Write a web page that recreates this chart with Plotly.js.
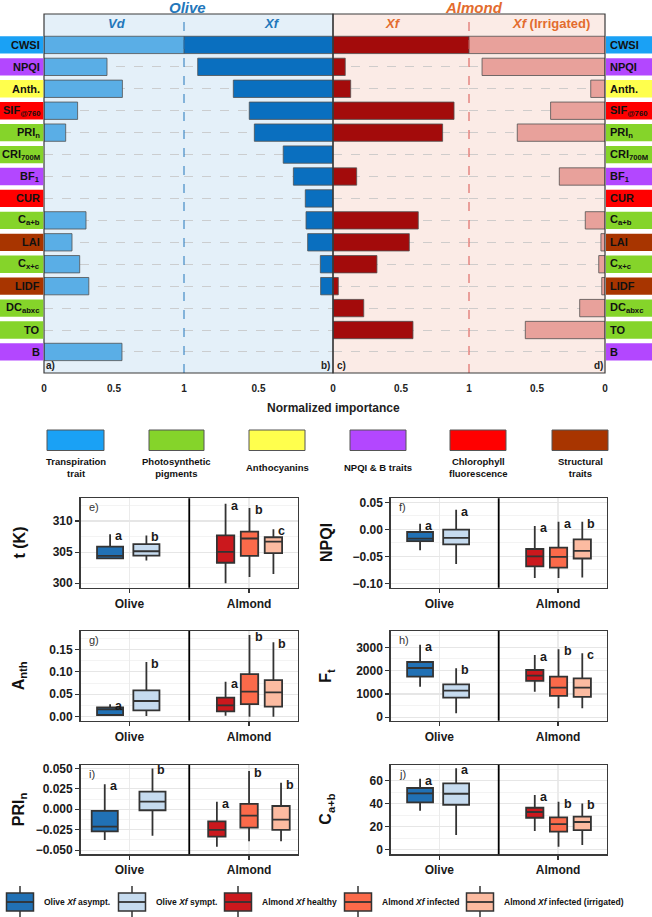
<!DOCTYPE html>
<html><head><meta charset="utf-8">
<script src="https://cdn.plot.ly/plotly-3.0.1.min.js"></script>
<style>html,body{margin:0;padding:0;background:#fff}</style>
</head><body><div id="chart" style="width:652px;height:917px"></div>
<script>
// ================= DATA =================
// Top panels: normalized importance of each trait
const traits = ['CWSI','NPQI','Anth','SIF','PRIn','CRI','BF1','CUR','Cab','LAI','Cxc','LIDF','DC','TO','B'];
const traitLabels = ['CWSI','NPQI','Anth.','SIF<sub>@760</sub>','PRI<sub>n</sub>','CRI<sub>700M</sub>','BF<sub>1</sub>','CUR','C<sub>a+b</sub>','LAI','C<sub>x+c</sub>','LIDF','DC<sub>abxc</sub>','TO','B'];
const traitGroup = [0,3,2,4,1,1,3,4,1,5,1,5,1,1,3];
const groupLabels = ['Transpiration<br>trait','Photosynthetic<br>pigments','Anthocyanins','NPQI & B traits','Chlorophyll<br>fluorescence','Structural<br>traits'];
const oliveVd     = [1.00,0.45,0.56,0.24,0.155,0,0,0,0.30,0.20,0.255,0.32,0,0,0.557];
const oliveXf     = [1.00,0.908,0.669,0.562,0.528,0.334,0.266,0.186,0.181,0.17,0.085,0.083,0,0,0];
const almondXf    = [1.00,0.09,0.13,0.89,0.806,0,0.174,0,0.627,0.561,0.323,0.039,0.226,0.588,0];
const almondXfIrr = [1.00,0.904,0.105,0.40,0.645,0,0.336,0,0.145,0.03,0.046,0.024,0.186,0.586,0];
const impTickVals = [0, 0.5, 1];
const impTickText = ['0', '0.5', '1'];

// Box plots
const crops = ['Olive','Almond'];
const boxGroupLabels = ['Olive <i>Xf</i> asympt.','Olive <i>Xf</i> sympt.','Almond <i>Xf</i> healthy','Almond <i>Xf</i> infected','Almond <i>Xf</i> infected (irrigated)'];
const tK = {lower:[304.0,303.65,300.0,301.0,301.5], q1:[304.0,304.45,303.3,304.4,304.85], median:[304.4,305.15,305.05,307.2,306.7], q3:[305.9,306.3,307.7,308.3,307.4], upper:[307.9,307.7,312.8,312.1,308.7], letters:['a','b','a','b','c']};
const npqi = {lower:[-0.039,-0.064,-0.09,-0.09,-0.089], q1:[-0.022,-0.028,-0.0686,-0.071,-0.054], median:[-0.0174,-0.016,-0.05,-0.051,-0.040], q3:[-0.005,-0.0007,-0.0365,-0.034,-0.0185], upper:[0.0104,0.036,0.006,0.014,0.014], letters:['a','a','a','a','b']};
const anth = {lower:[0.002,0.0015,0.002,0.0,0.0], q1:[0.0038,0.0142,0.012,0.028,0.0223], median:[0.0165,0.035,0.0254,0.0557,0.0543], q3:[0.021,0.0588,0.0423,0.095,0.0817], upper:[0.028,0.122,0.078,0.182,0.166], letters:['a','b','a','b','b']};
const ft = {lower:[1311,171,1100,386,386], q1:[1740,843,1557,914,871], median:[2113,1143,1786,1270,1270], q3:[2370,1414,2027,1740,1671], upper:[3111,2100,2670,2914,2743], letters:['a','b','a','b','c']};
const prin = {lower:[-0.0376,-0.0323,-0.0458,-0.0392,-0.0392], q1:[-0.027,-0.0012,-0.0335,-0.0225,-0.0253], median:[-0.0213,0.0093,-0.0253,-0.0078,-0.0127], q3:[-0.002,0.0216,-0.0147,0.0065,0.004], upper:[0.0306,0.050,0.0093,0.0469,0.0326], letters:['a','b','a','b','b']};
const cab = {lower:[33.9,12.8,16.3,2.6,4.1], q1:[41.2,39.1,27.8,15.7,17.1], median:[49.0,48.7,32.8,22.3,24.1], q3:[53.7,57.7,36.5,28.2,28.7], upper:[61.7,70.8,47.6,41.7,40.3], letters:['a','a','a','b','b']};

// ================= STYLE / LAYOUT =================
const W = 652, H = 917;
const px = x => x / W;
const py = y => 1 - y / H;
const FONT = 'Liberation Sans, Arial, sans-serif';
const groupColors = ['#1AA1F5','#85D42A','#FFFF4D','#B347FF','#FF0000','#A83500'];
const boxColors = ['#2171B5','#C6DBEF','#CB181D','#FB6A4A','#FCBBA1'];
const oliveCol = '#2277BB', almondCol = '#E36C2E';

const traces = [];
const shapes = [];
const annotations = [];
const layout = {
  width: W, height: H, margin: {l:0, r:0, t:0, b:0},
  paper_bgcolor: '#fff', plot_bgcolor: 'rgba(0,0,0,0)',
  font: {family: FONT, color: '#222'},
  showlegend: false, hovermode: false,
  shapes, annotations
};

// ---- top bar panels ----
const barPanels = [
  {vals: oliveVd, color:'#5AAEE6', x0:44, x1:184, rev:false, ticks:[0,1,2]},
  {vals: oliveXf, color:'#0A6FBF', x0:184, x1:333, rev:true, ticks:[1,0]},
  {vals: almondXf, color:'#A30B0B', x0:333, x1:469, rev:false, ticks:[1,2]},
  {vals: almondXfIrr, color:'#E8A19B', x0:469, x1:605, rev:true, ticks:[1,0]},
];
const TOP_Y0 = 14, TOP_Y1 = 373;
barPanels.forEach((p, k) => {
  const ax = k === 0 ? 'x' : 'x' + (k + 1);
  const axName = k === 0 ? 'xaxis' : 'xaxis' + (k + 1);
  traces.push({
    type:'bar', orientation:'h', xaxis: ax, yaxis:'y',
    y: traits, x: p.vals.map(v => v === 0 ? null : v),
    width: 0.79, marker:{color:p.color, line:{color:'#505050', width:0.8}},
    hoverinfo:'skip'
  });
  layout[axName] = {
    domain:[px(p.x0), px(p.x1)], range: p.rev ? [1,0] : [0,1], anchor:'y',
    showgrid:false, zeroline:false, showline:false,
    tickmode:'array', tickvals: p.ticks.map(i => impTickVals[i]), ticktext: p.ticks.map(i => impTickText[i]),
    ticks:'outside', ticklen:6, tickcolor:'rgba(0,0,0,0)',
    tickfont:{size:10, color:'#222', weight:'bold'}, fixedrange:true
  };
});
layout.yaxis = {
  domain:[py(TOP_Y1), py(TOP_Y0)], type:'category', categoryarray: traits,
  range:[14.96, -1.41], anchor:'x', showticklabels:false, ticks:'',
  showgrid:true, griddash:'dash', gridcolor:'#C4C4C4', gridwidth:0.8, zeroline:false, fixedrange:true
};
// panel backgrounds
shapes.push({type:'rect', xref:'paper', yref:'paper', x0:px(44), x1:px(333), y0:py(TOP_Y1), y1:py(TOP_Y0), fillcolor:'#E4F0F9', line:{width:0}, layer:'below'});
shapes.push({type:'rect', xref:'paper', yref:'paper', x0:px(333), x1:px(605), y0:py(TOP_Y1), y1:py(TOP_Y0), fillcolor:'#FBEBE6', line:{width:0}, layer:'below'});
// dashed dividers
shapes.push({type:'line', xref:'paper', yref:'paper', x0:px(184), x1:px(184), y0:py(TOP_Y1), y1:py(TOP_Y0), line:{color:oliveCol, width:1, dash:'dash'}});
shapes.push({type:'line', xref:'paper', yref:'paper', x0:px(469), x1:px(469), y0:py(TOP_Y1), y1:py(TOP_Y0), line:{color:'#D9534F', width:1, dash:'dash'}});
// borders
shapes.push({type:'rect', xref:'paper', yref:'paper', x0:px(44), x1:px(333), y0:py(TOP_Y1), y1:py(TOP_Y0), line:{color:'#3a3a3a', width:1.2}});
shapes.push({type:'rect', xref:'paper', yref:'paper', x0:px(333), x1:px(605), y0:py(TOP_Y1), y1:py(TOP_Y0), line:{color:'#3a3a3a', width:1.2}});
// trait label boxes
traits.forEach((t, i) => {
  const col = groupColors[traitGroup[i]];
  shapes.push({type:'rect', xref:'paper', yref:'y', x0:0, x1:px(43.3), y0:i-0.395, y1:i+0.395, fillcolor:col, line:{width:0}});
  shapes.push({type:'rect', xref:'paper', yref:'y', x0:px(606), x1:1, y0:i-0.395, y1:i+0.395, fillcolor:col, line:{width:0}});
  annotations.push({xref:'paper', yref:'y', x:px(42), y:t, xanchor:'right', yanchor:'middle', showarrow:false,
    text:'<b>'+traitLabels[i]+'</b>', font:{size:11, color:'#111'}});
  annotations.push({xref:'paper', yref:'y', x:px(607.5), y:t, xanchor:'left', yanchor:'middle', showarrow:false,
    text:'<b>'+traitLabels[i]+'</b>', font:{size:11, color:'#111'}});
});
// headers
const hdr = (x, y, text, color, size) => annotations.push({xref:'paper', yref:'paper', x:px(x), y:py(y), xanchor:'center', yanchor:'middle', showarrow:false, text, font:{size, color}});
hdr(187, 7, '<b><i>Olive</i></b>', oliveCol, 15);
hdr(474, 7, '<b><i>Almond</i></b>', almondCol, 15);
hdr(116.7, 24, '<b><i>Vd</i></b>', oliveCol, 13);
hdr(271.7, 24, '<b><i>Xf</i></b>', oliveCol, 13);
hdr(392.7, 24, '<b><i>Xf</i></b>', almondCol, 13);
hdr(550.7, 24, '<b><i>Xf</i> (Irrigated)</b>', almondCol, 13);
// panel letters
[['a)',50],['b)',325],['c)',341],['d)',598]].forEach(([t,x]) => hdr(x, 366, '<b>'+t+'</b>', '#222', 10));
hdr(333, 408, '<b>Normalized importance</b>', '#222', 12);

// category legend
const catX = [[47,104],[149,204],[249,305],[350,406],[450,506],[552,608]];
groupLabels.forEach((g, i) => {
  shapes.push({type:'rect', xref:'paper', yref:'paper', x0:px(catX[i][0]), x1:px(catX[i][1]), y0:py(450.5), y1:py(430), fillcolor:groupColors[i], line:{color:'#555', width:1}});
  annotations.push({xref:'paper', yref:'paper', x:px((catX[i][0]+catX[i][1])/2), y:py(467.5), xanchor:'center', yanchor:'middle', showarrow:false,
    text:'<b>'+g+'</b>', font:{size:9.5, color:'#111'}});
});

// ---- box panels ----
const POS_A = [0.136, 0.303, 0.667, 0.777, 0.887];
const POS_I = [0.1115, 0.331, 0.627, 0.775, 0.922];
const WID = [0.12, 0.12, 0.08, 0.08, 0.08];
const boxPanels = [
  {d:tK,   title:'t (K)', tag:'e)', x0:80.5, x1:298,  y0:498.3, y1:587.7, range:[299.29,313.66], dtick:5, minor:2.5, fmt:'d', pos:POS_A, tx:18.5},
  {d:npqi, title:'NPQI', tag:'f)', x0:390.7, x1:606.7, y0:498.3, y1:587.7, range:[-0.1081,0.0574], dtick:0.05, minor:0.025, fmt:'.2f', pos:POS_A, tx:326},
  {d:anth, title:'A<sub>nth</sub>', tag:'g)', x0:80.5, x1:298, y0:631, y1:720.7, range:[-0.0089,0.1909], dtick:0.05, minor:0.025, fmt:'.2f', pos:POS_A, tx:19.5},
  {d:ft,   title:'F<sub>t</sub>', tag:'h)', x0:390.7, x1:606.7, y0:631, y1:720.7, range:[-146,3699], dtick:1000, minor:500, fmt:'d', pos:POS_A, tx:327},
  {d:prin, title:'PRI<sub>n</sub>', tag:'i)', x0:80.5, x1:298, y0:765, y1:854.3, range:[-0.0551,0.0542], dtick:0.025, minor:0.0125, fmt:'.3f', pos:POS_I, tx:19.5},
  {d:cab,  title:'C<sub>a+b</sub>', tag:'j)', x0:390.7, x1:606.7, y0:765, y1:854.3, range:[-4,73.7], dtick:20, minor:10, fmt:'d', pos:POS_A, tx:327},
];
boxPanels.forEach((p, k) => {
  const xi = k + 5, yi = k + 2;
  const xa = 'x' + xi, ya = 'y' + yi;
  layout['xaxis' + xi] = {
    domain:[px(p.x0), px(p.x1)], range:[0,1], anchor: ya,
    tickmode:'array', tickvals:[0.225, 0.775], ticktext: crops,
    ticks:'outside', ticklen:4, tickcolor:'#333', tickwidth:1.2,
    tickfont:{size:12, color:'#1a1a1a', weight:'bold'},
    showgrid:true, gridcolor:'#EBEBEB', gridwidth:1.2, zeroline:false,
    showline:true, mirror:true, linecolor:'#3a3a3a', linewidth:1.4, fixedrange:true
  };
  layout['yaxis' + yi] = {
    domain:[py(p.y1), py(p.y0)], range:p.range, anchor: xa,
    tickmode:'linear', tick0:0, dtick:p.dtick, tickformat:p.fmt,
    ticks:'outside', ticklen:4, tickcolor:'#333', tickwidth:1.2,
    tickfont:{size:12, color:'#1a1a1a', weight:'bold'},
    showgrid:true, gridcolor:'#E6E6E6', gridwidth:1.2, zeroline:false,
    minor:{tick0:0, dtick:p.minor, showgrid:true, gridcolor:'#F3F3F3', gridwidth:1, ticks:''},
    showline:true, mirror:true, linecolor:'#3a3a3a', linewidth:1.4, fixedrange:true
  };
  for (let g = 0; g < 5; g++) {
    traces.push({
      type:'box', xaxis:xa, yaxis:ya, x:[p.pos[g]],
      q1:[p.d.q1[g]], median:[p.d.median[g]], q3:[p.d.q3[g]],
      lowerfence:[p.d.lower[g]], upperfence:[p.d.upper[g]],
      width: WID[g], whiskerwidth:0, boxpoints:false,
      fillcolor: boxColors[g], line:{color:'#333', width:1.8},
      hoverinfo:'skip', showlegend:false
    });
    annotations.push({xref:xa, yref:ya, x:p.pos[g], y:p.d.upper[g], xanchor:'left', yanchor:'middle', xshift:3, yshift:-2,
      showarrow:false, text:'<b>'+p.d.letters[g]+'</b>', font:{size:12.5, color:'#1a1a1a'}});
  }
  // facet divider
  shapes.push({type:'line', xref:xa, yref: ya + ' domain', x0:0.5, x1:0.5, y0:0, y1:1, line:{color:'#000', width:1.8}});
  // panel tag
  annotations.push({xref:'paper', yref:'paper', x:px(p.x0 + 6), y:py(p.y0 + 9), xanchor:'left', yanchor:'middle', showarrow:false,
    text:p.tag, font:{size:11, color:'#333'}});
  // y title
  annotations.push({xref:'paper', yref:'paper', x:px(p.tx), y:py((p.y0 + p.y1) / 2), xanchor:'center', yanchor:'middle', showarrow:false,
    textangle:-90, text:'<b>'+p.title+'</b>', font:{size:16, color:'#111'}});
});

// ---- bottom legend ----
const legC = [20, 132, 238, 358, 480];
boxGroupLabels.forEach((lab, g) => {
  const c = legC[g];
  shapes.push({type:'line', xref:'paper', yref:'paper', x0:px(c), x1:px(c), y0:py(886), y1:py(917), line:{color:'#333', width:1.5}});
  shapes.push({type:'rect', xref:'paper', yref:'paper', x0:px(c-13.5), x1:px(c+13.5), y0:py(911), y1:py(893), fillcolor:boxColors[g], line:{color:'#333', width:1.5}});
  shapes.push({type:'line', xref:'paper', yref:'paper', x0:px(c-13.5), x1:px(c+13.5), y0:py(902), y1:py(902), line:{color:'#333', width:1.8}});
  annotations.push({xref:'paper', yref:'paper', x:px(c + 22), y:py(902), xanchor:'left', yanchor:'middle', showarrow:false,
    text:'<b>'+lab+'</b>', font:{size:8.5, color:'#111'}});
});

Plotly.newPlot('chart', traces, layout, {staticPlot:true, displayModeBar:false});
</script>
</body></html>
